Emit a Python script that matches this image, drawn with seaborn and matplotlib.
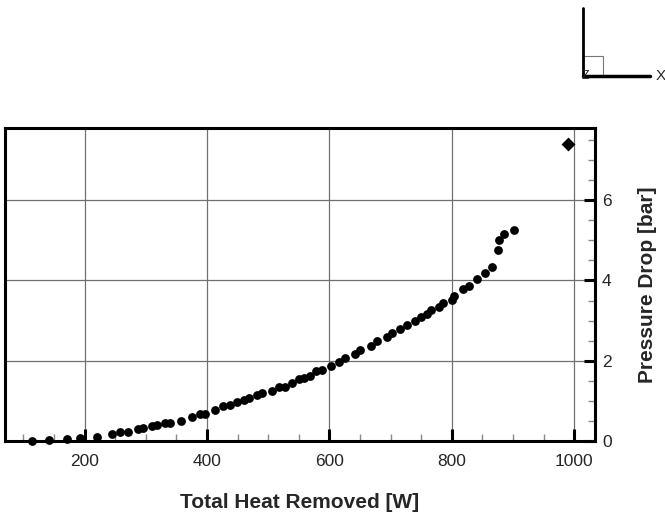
import numpy as np
import pandas as pd
import matplotlib
matplotlib.use("Agg")
import matplotlib.pyplot as plt
from matplotlib.lines import Line2D
from matplotlib.patches import Rectangle
from matplotlib.ticker import MultipleLocator
import seaborn as sns

heat = [113.7, 142.4, 170.9, 192.6, 220.5, 244.5, 258, 271.6, 288, 296, 310, 318,
        331.6, 339.8, 357.3, 375.3, 389, 397, 413.4, 427, 438, 448.9, 459.7, 467.9,
        481.6, 489.8, 506.1, 516.9, 527.9, 538.8, 549.6, 557.8, 568.8, 578.6, 587.9,
        603.1, 615, 626, 641.2, 650.5, 668, 677.8, 694.2, 702.4, 716, 726.9, 740.5,
        749.8, 759.6, 766.1, 779.7, 785.8, 800.5, 804.2, 818.5, 828.3, 841.4, 854.9,
        866.4, 875.7, 877.8, 886, 902.4]
dp = [0.0, 0.02, 0.05, 0.08, 0.11, 0.17, 0.22, 0.23, 0.29, 0.32, 0.37, 0.40,
      0.44, 0.44, 0.51, 0.61, 0.67, 0.67, 0.77, 0.87, 0.90, 0.96, 1.02, 1.07,
      1.15, 1.19, 1.25, 1.34, 1.35, 1.44, 1.54, 1.56, 1.62, 1.75, 1.77,
      1.87, 1.97, 2.08, 2.18, 2.28, 2.37, 2.49, 2.58, 2.70, 2.79, 2.89, 2.98,
      3.08, 3.16, 3.26, 3.35, 3.44, 3.52, 3.61, 3.78, 3.86, 4.03, 4.18,
      4.33, 4.76, 5.02, 5.15, 5.27]
heat_special = [989.5]
dp_special = [7.41]

x_major = [200, 400, 600, 800, 1000]
y_major = [0, 2, 4, 6]

sns.set_style("white")
plt.rcParams['font.family'] = ['Liberation Sans', 'DejaVu Sans']

fig = plt.figure(figsize=(6.65, 5.15), dpi=100)
ax = fig.add_axes([5/665, 74/515, 590/665, 313/515])

df = pd.DataFrame({"heat": heat, "dp": dp})
sns.scatterplot(data=df, x="heat", y="dp", ax=ax, color="black", s=40,
                edgecolor="black", linewidth=0, marker="o", clip_on=False, zorder=3)
sns.scatterplot(x=heat_special, y=dp_special, ax=ax, color="black", s=50,
                marker="D", linewidth=0, clip_on=False, zorder=3)

ax.set_xlim(70, 1034)
ax.set_ylim(0, 7.8)
ax.set_xticks(x_major)
ax.set_yticks(y_major)
ax.xaxis.set_minor_locator(MultipleLocator(50))
ax.yaxis.set_minor_locator(MultipleLocator(0.5))
ax.grid(True, which="major", color="#707070", linewidth=0.9)
ax.set_axisbelow(True)

ax.yaxis.tick_right()
ax.yaxis.set_label_position("right")
ax.tick_params(axis="x", which="major", direction="in", length=9, width=2.2,
               color="black", labelsize=12.5, pad=9, top=False, bottom=True)
ax.tick_params(axis="x", which="minor", direction="in", length=5, width=1,
               color="#888888", top=False, bottom=True)
ax.tick_params(axis="y", which="major", direction="in", length=8, width=2.2,
               color="black", labelsize=12.5, pad=5, left=False, right=True)
ax.tick_params(axis="y", which="minor", direction="in", length=5, width=1,
               color="#888888", left=False, right=True)

for sp in ax.spines.values():
    sp.set_visible(True)
    sp.set_color("black")
    sp.set_linewidth(2.2)

ax.set_xlabel("Total Heat Removed [W]", fontsize=15, fontweight="bold", labelpad=18)
ax.set_ylabel("Pressure Drop [bar]", fontsize=15, fontweight="bold", labelpad=19)

# orientation triad (top right)
def fx(px):
    return px / 665
def fy(py):
    return (515 - py) / 515

fig.add_artist(Rectangle((fx(583), fy(76)), 20/665, 20/515, transform=fig.transFigure,
                         fill=False, edgecolor="#777777", linewidth=0.8))
fig.add_artist(Line2D([fx(583), fx(583)], [fy(76), fy(8)], transform=fig.transFigure,
                      color="black", linewidth=2))
fig.add_artist(Line2D([fx(583), fx(650)], [fy(76), fy(76)], transform=fig.transFigure,
                      color="black", linewidth=2.5))
fig.text(fx(656), fy(76), "X", fontsize=11, ha="left", va="center")
fig.text(fx(585), fy(76), "Z", fontsize=9, ha="center", va="center")

fig.savefig("out.png", dpi=100)
